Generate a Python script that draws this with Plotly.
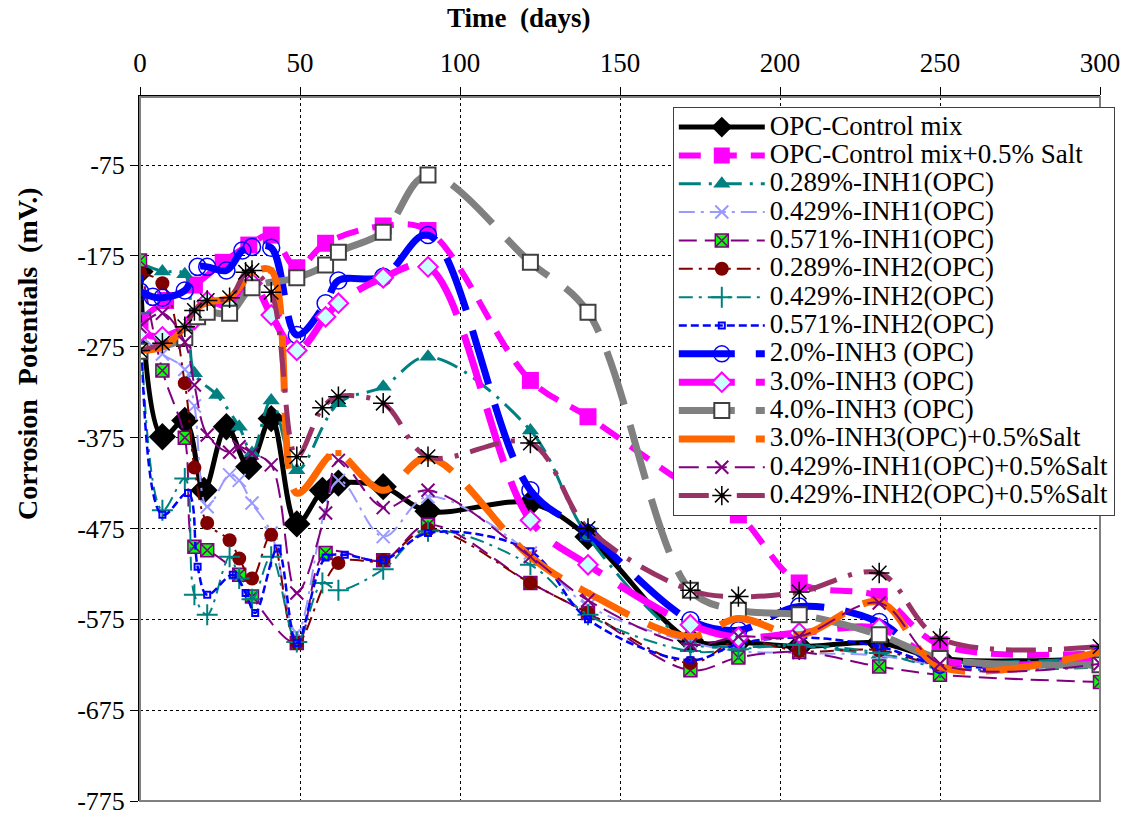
import plotly.graph_objects as go

# ---------------- data (days, mV) ----------------
ctrl_x = [0, 7, 14, 20, 27, 34, 41, 49, 57, 62, 76, 90, 122, 140, 172, 187, 206, 231, 250, 300]
ctrl_y = [-192, -374, -356, -433, -363, -407, -354, -470, -433, -425, -429, -456, -447, -484, -598, -600, -605, -601, -618, -618]

salt_x = [0, 8, 17, 26, 34, 41, 49, 58, 76, 90, 122, 140, 172, 187, 206, 231, 250, 300]
salt_y = [-246, -224, -207, -182, -163, -152, -188, -161, -142, -147, -312, -352, -430, -460, -535, -550, -603, -612]

i1a_x = [0, 7, 14, 17, 24, 31, 35, 41, 49, 62, 76, 90, 122, 140, 172, 187, 206, 231, 250, 300]
i1a_y = [-183, -192, -195, -304, -328, -363, -392, -334, -411, -337, -319, -286, -367, -484, -600, -605, -604, -614, -622, -618]

i1b_x = [0, 7, 14, 17, 21, 28, 31, 35, 41, 49, 62, 76, 90, 122, 140, 172, 187, 206, 231, 250, 300]
i1b_y = [-262, -283, -300, -340, -451, -416, -422, -447, -480, -590, -422, -484, -440, -502, -560, -600, -610, -612, -615, -625, -625]

i1c_x = [0, 7, 14, 17, 21, 31, 35, 49, 58, 76, 90, 122, 140, 172, 187, 206, 231, 250, 300]
i1c_y = [-180, -301, -375, -495, -499, -526, -550, -601, -502, -510, -471, -535, -568, -631, -617, -611, -627, -636, -644]

i2a_x = [0, 7, 14, 17, 21, 28, 31, 35, 41, 49, 62, 76, 90, 122, 140, 172, 187, 206, 231, 250, 300]
i2a_y = [-194, -205, -315, -408, -469, -488, -508, -530, -482, -601, -513, -510, -476, -535, -568, -623, -598, -610, -609, -625, -620]

i2b_x = [0, 7, 14, 17, 21, 28, 31, 35, 41, 49, 57, 62, 76, 90, 122, 140, 172, 187, 206, 231, 250, 300]
i2b_y = [-238, -455, -420, -548, -570, -506, -530, -553, -506, -600, -535, -543, -520, -478, -515, -570, -610, -608, -603, -612, -628, -628]

i2c_x = [0, 7, 15, 18, 21, 29, 33, 36, 43, 49, 58, 64, 76, 90, 122, 140, 172, 187, 206, 231, 250, 300]
i2c_y = [-200, -460, -436, -517, -548, -526, -546, -568, -497, -601, -507, -504, -510, -480, -500, -575, -620, -602, -595, -605, -625, -625]

i3a_x = [0, 4, 7, 14, 18, 21, 27, 32, 35, 41, 49, 58, 62, 76, 90, 122, 140, 172, 187, 206, 231, 250, 300]
i3a_y = [-214, -220, -221, -213, -187, -187, -191, -169, -165, -166, -262, -227, -202, -198, -152, -433, -480, -576, -587, -561, -578, -625, -615]

i3b_x = [0, 7, 17, 21, 28, 35, 41, 49, 58, 62, 76, 90, 122, 140, 172, 187, 206, 231, 250, 300]
i3b_y = [-259, -264, -245, -225, -230, -205, -240, -279, -242, -227, -199, -187, -466, -515, -581, -595, -590, -585, -620, -620]

i3c_x = [0, 14, 18, 21, 28, 35, 49, 58, 62, 76, 90, 122, 140, 172, 187, 206, 231, 250, 300]
i3c_y = [-280, -265, -242, -237, -238, -210, -199, -185, -171, -149, -86, -182, -237, -543, -565, -570, -592, -618, -625]

i3s_x = [0, 7, 14, 17, 21, 28, 35, 41, 49, 59, 62, 76, 90, 122, 140, 172, 187, 206, 231, 250, 300]
i3s_y = [-279, -275, -253, -235, -226, -221, -194, -191, -436, -396, -392, -433, -397, -506, -546, -594, -574, -592, -556, -627, -611]

i1s_x = [0, 7, 14, 17, 21, 28, 31, 35, 41, 49, 58, 62, 76, 90, 122, 140, 172, 187, 206, 231, 250, 300]
i1s_y = [-253, -238, -270, -317, -372, -391, -385, -392, -405, -546, -458, -400, -452, -433, -506, -554, -603, -594, -594, -557, -624, -624]

i2s_x = [0, 7, 14, 17, 21, 28, 33, 35, 41, 49, 57, 62, 76, 90, 122, 140, 172, 187, 206, 231, 250, 300]
i2s_y = [-279, -271, -253, -235, -224, -221, -193, -191, -215, -396, -342, -330, -337, -396, -381, -475, -543, -550, -545, -524, -596, -605]

names = [
    "OPC-Control mix", "OPC-Control mix+0.5% Salt", "0.289%-INH1(OPC)", "0.429%-INH1(OPC)",
    "0.571%-INH1(OPC)", "0.289%-INH2(OPC)", "0.429%-INH2(OPC)", "0.571%-INH2(OPC)",
    "2.0%-INH3 (OPC)", "3.0%-INH3 (OPC)", "4.0%-INH3 (OPC)", "3.0%-INH3(OPC)+0.5%Salt",
    "0.429%-INH1(OPC)+0.5%Salt", "0.429%-INH2(OPC)+0.5%Salt",
]

y_tickvals = [-775, -675, -575, -475, -375, -275, -175, -75]
y_ticktext = ["-775", "-675", "-575", "-475", "-375", "-275", "-175", "-75"]
x_tickvals = [0, 50, 100, 150, 200, 250, 300]

xs = [ctrl_x, salt_x, i1a_x, i1b_x, i1c_x, i2a_x, i2b_x, i2c_x, i3a_x, i3b_x, i3c_x, i3s_x, i1s_x, i2s_x]
ys = [ctrl_y, salt_y, i1a_y, i1b_y, i1c_y, i2a_y, i2b_y, i2c_y, i3a_y, i3b_y, i3c_y, i3s_y, i1s_y, i2s_y]

styles = [
    dict(line=dict(color="black", width=5), marker=dict(symbol="diamond", size=21, color="black")),
    dict(line=dict(color="#FF00FF", width=6, dash="22px,14px"), marker=dict(symbol="square", size=17, color="#FF00FF")),
    dict(line=dict(color="#008080", width=3, dash="22px,8px,3px,8px"), marker=dict(symbol="triangle-up", size=15, color="#008080")),
    dict(line=dict(color="#9999FF", width=2, dash="16px,6px,3px,6px"), marker=dict(symbol="x-thin", size=13, color="#9999FF", line=dict(color="#9999FF", width=2))),
    dict(line=dict(color="#800080", width=2, dash="18px,8px"), marker=dict(symbol="square-x", size=13, color="#00FF00", line=dict(color="#800080", width=1.5))),
    dict(line=dict(color="#800000", width=2, dash="14px,6px,3px,6px"), marker=dict(symbol="circle", size=14, color="#800000")),
    dict(line=dict(color="#008080", width=2, dash="14px,6px,3px,6px"), marker=dict(symbol="cross-thin", size=15, color="#008080", line=dict(color="#008080", width=2))),
    dict(line=dict(color="#0000FF", width=2.5, dash="8px,4px"), marker=dict(symbol="square-open", size=6, color="#0000FF", line=dict(color="#0000FF", width=2))),
    dict(line=dict(color="#0000FF", width=7, dash="56px,21px"), marker=dict(symbol="circle-open", size=17, color="#0000FF", line=dict(color="#0000FF", width=1.5))),
    dict(line=dict(color="#FF00FF", width=7, dash="56px,21px"), marker=dict(symbol="diamond", size=15, color="#CCFFFF", line=dict(color="#FF00FF", width=2))),
    dict(line=dict(color="#808080", width=7, dash="56px,21px"), marker=dict(symbol="square", size=15, color="white", line=dict(color="#404040", width=2))),
    dict(line=dict(color="#FF6600", width=7, dash="56px,21px"), marker=dict(symbol="square", size=6, color="#FF6600")),
    dict(line=dict(color="#800080", width=2, dash="20px,8px"), marker=dict(symbol="x-thin", size=13, color="#800080", line=dict(color="#800080", width=2))),
    dict(line=dict(color="#993366", width=5, dash="30px,12px,4px,12px"), marker=dict(symbol="asterisk", size=17, color="black", line=dict(color="black", width=1.5))),
]

fig = go.Figure()
for n, x, y, st in zip(names, xs, ys, styles):
    line = dict(st["line"])
    line["shape"] = "spline"
    fig.add_trace(go.Scatter(
        x=x, y=y, name='<span style="font-size:27px">' + n + "</span>",
        mode="lines+markers", line=line, marker=st["marker"]))

serif = "Liberation Serif"
fig.update_layout(
    width=1127, height=816,
    margin=dict(l=140, r=27, t=97, b=15),
    paper_bgcolor="white", plot_bgcolor="white",
    font=dict(family=serif, color="black", size=24),
    legend=dict(
        x=0.555, y=0.986, xanchor="left", yanchor="top",
        bgcolor="white", bordercolor="#404040", borderwidth=1,
        font=dict(family=serif, size=19.5, color="black"),
        itemwidth=86, tracegroupgap=0,
    ),
    xaxis=dict(
        side="top", range=[0, 300], tickvals=x_tickvals,
        ticks="outside", ticklen=8, tickcolor="black", ticklabelstandoff=4,
        showgrid=True, gridcolor="black", griddash="dot", gridwidth=1,
        showline=True, linecolor="black", linewidth=2, zeroline=False,
        tickfont=dict(family=serif, size=27), automargin=False,
        ticklabeloverflow="allow",
    ),
    yaxis=dict(
        range=[-775, 0], tickvals=y_tickvals, ticktext=y_ticktext,
        ticks="outside", ticklen=8, tickcolor="black",
        showgrid=True, gridcolor="black", griddash="dot", gridwidth=1,
        showline=True, linecolor="black", linewidth=2, zeroline=False,
        tickfont=dict(family=serif, size=26), automargin=False,
        ticklabeloverflow="allow",
    ),
    shapes=[dict(type="rect", xref="paper", yref="paper", x0=0, x1=1, y0=0, y1=1,
                 line=dict(color="#808080", width=2), layer="above")],
    annotations=[
        dict(text="<b>Time\u00a0\u00a0(days)</b>", xref="paper", yref="paper",
             x=0.395, y=1.0, yshift=79, xanchor="center", yanchor="middle",
             showarrow=False, font=dict(family=serif, size=27)),
        dict(text="<b>Corrosion\u00a0\u00a0Potentials\u00a0\u00a0(mV.)</b>", xref="paper", yref="paper",
             x=0, xshift=-112, y=0.635, xanchor="center", yanchor="middle", textangle=-90,
             showarrow=False, font=dict(family=serif, size=28)),
    ],
)

fig.write_html("out.html")
